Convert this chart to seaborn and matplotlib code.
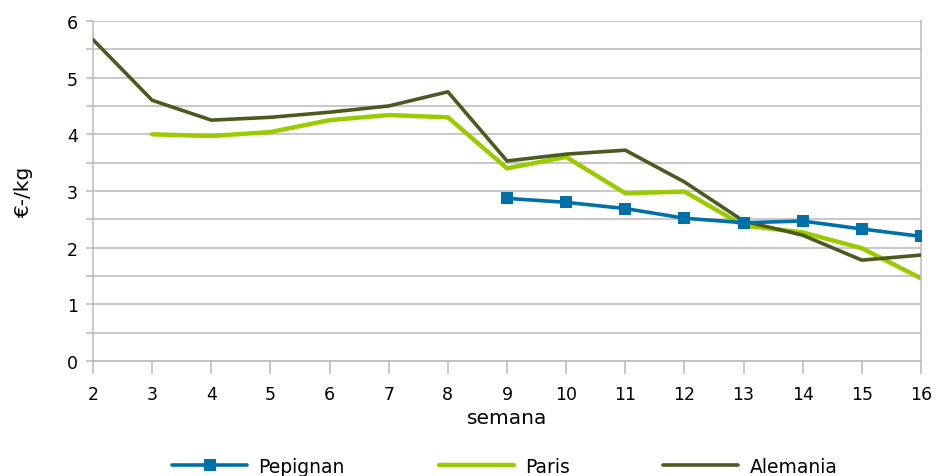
import numpy as np
import pandas as pd
import matplotlib
matplotlib.use("Agg")
import matplotlib.pyplot as plt
import seaborn as sns

weeks = list(range(2, 17))
pepignan = [np.nan]*7 + [2.87, 2.80, 2.69, 2.52, 2.44, 2.47, 2.33, 2.20]
paris = [np.nan, 4.00, 3.97, 4.04, 4.25, 4.34, 4.30, 3.40, 3.60, 2.96, 2.99, 2.39, 2.27, 1.99, 1.46]
alemania = [5.67, 4.60, 4.25, 4.30, 4.39, 4.50, 4.75, 3.53, 3.65, 3.72, 3.16, 2.47, 2.22, 1.78, 1.87]
series_names = ["Pepignan", "Paris", "Alemania"]

sns.set_theme(style="white")
plt.rcParams['font.family'] = ['DejaVu Sans']
plt.rcParams['text.color'] = 'black'
plt.rcParams['axes.labelcolor'] = 'black'
plt.rcParams['xtick.labelcolor'] = 'black'
plt.rcParams['ytick.labelcolor'] = 'black'

fig = plt.figure(figsize=(9.35, 4.77), dpi=100)
ax = fig.add_axes([0.0995, 0.241, 0.8855, 0.713])

grid_c = "#BFBFBF"
ax.set_ylim(0, 6)
ax.set_xlim(2, 16)
ax.yaxis.grid(True, color=grid_c, linewidth=1.2)
ax.set_axisbelow(True)

sns.lineplot(x=weeks, y=alemania, ax=ax, color="#4B5A1E", linewidth=2.6, label=series_names[2], zorder=3)
sns.lineplot(x=weeks, y=paris, ax=ax, color="#99CC00", linewidth=3.2, label=series_names[1], zorder=2)
sns.lineplot(x=weeks, y=pepignan, ax=ax, color="#0070A8", linewidth=2.6, marker="s",
             markersize=8, markeredgewidth=0, label=series_names[0], zorder=4)

yt = np.arange(0, 6.01, 0.5)
ax.set_yticks(yt)
ax.set_yticklabels([str(int(v)) if v == int(v) else "" for v in yt], fontsize=12.5)
ax.set_xticks(weeks)
ax.set_xticklabels([str(w) for w in weeks], fontsize=12.5)
ax.tick_params(axis='y', length=5, color=grid_c, width=1.2, pad=6, left=True, labelcolor='black')
ax.tick_params(axis='x', length=9, color=grid_c, width=1.2, pad=8, bottom=True, labelcolor='black')

ax.spines["top"].set_visible(False)
for s in ["left", "bottom", "right"]:
    ax.spines[s].set_color(grid_c)
    ax.spines[s].set_linewidth(1.2)

ax.set_xlabel("semana", fontsize=14.5, labelpad=4, color='black')
ax.set_ylabel("€-/kg", fontsize=14.5, labelpad=24, color='black')

handles, labels = ax.get_legend_handles_labels()
order = [labels.index(n) for n in series_names]
ax.get_legend().remove()
fig.legend([handles[i] for i in order], [labels[i] for i in order], loc="center",
           bbox_to_anchor=(0.54, 0.02), ncol=3, frameon=False, fontsize=13.5,
           handlelength=4, columnspacing=5.0, handletextpad=0.6, labelcolor='black')

fig.savefig("out.png", dpi=100)
